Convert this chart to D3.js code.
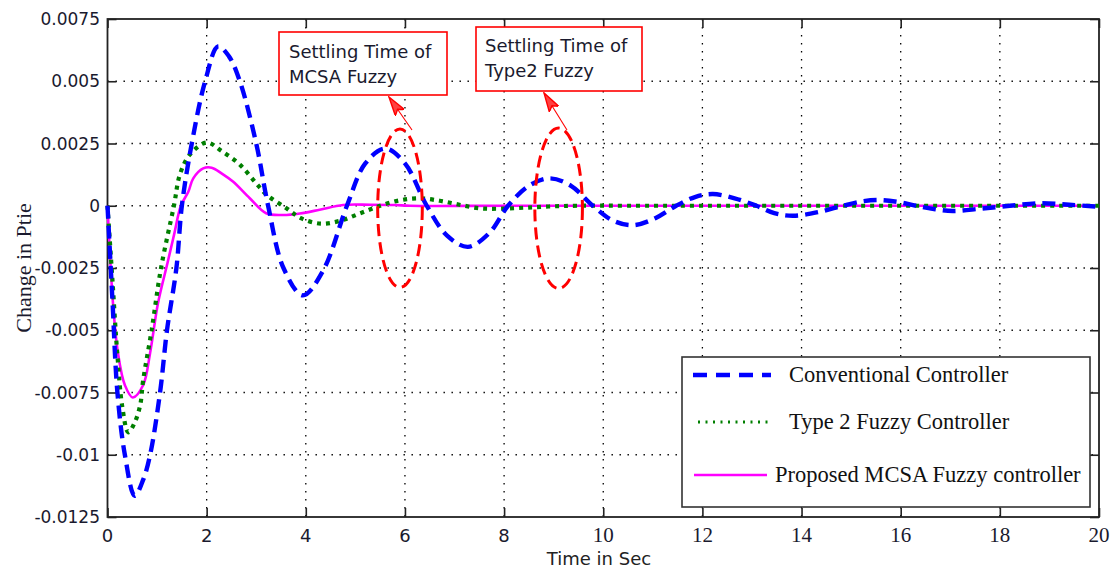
<!DOCTYPE html>
<html>
<head>
<meta charset="utf-8">
<script src="https://cdn.jsdelivr.net/npm/d3@7/dist/d3.min.js"></script>
<style>
  html, body { margin: 0; padding: 0; background: #fff; }
  svg { display: block; }
</style>
</head>
<body>
<svg id="chart" width="1114" height="569"></svg>
<script>
// Tie-line power deviation after a load step, three controllers
const xTicks = [0, 2, 4, 6, 8, 10, 12, 14, 16, 18, 20];
const yTicks = [-0.0125, -0.01, -0.0075, -0.005, -0.0025, 0, 0.0025, 0.005, 0.0075];
const yTickLabels = ["-0.0125", "-0.01", "-0.0075", "-0.005", "-0.0025", "0", "0.0025", "0.005", "0.0075"];

const seriesNames = ["Conventional Controller", "Type 2 Fuzzy Controller", "Proposed MCSA Fuzzy controller"];

const convT = [0, 0.05, 0.1, 0.2, 0.35, 0.55, 0.72, 0.86, 1.06, 1.2, 1.39, 1.5, 1.7, 1.97, 2.23, 2.45, 2.67, 3.0, 3.24, 3.55, 3.94, 4.35, 4.83, 5.2, 5.6, 6.0, 6.44, 6.85, 7.27, 7.7, 8.08, 8.5, 8.92, 9.35, 9.79, 10.2, 10.6, 11.05, 11.47, 11.85, 12.21, 12.65, 13.09, 13.45, 13.83, 14.35, 14.83, 15.2, 15.57, 15.95, 16.31, 16.7, 17.05, 17.6, 18.2, 18.8, 19.4, 20];
const convV = [0, -0.0019, -0.0038, -0.0075, -0.0100, -0.01165, -0.0110, -0.0100, -0.0075, -0.0050, -0.0025, 0, 0.0025, 0.0050, 0.0064, 0.0060, 0.0050, 0.0025, 0, -0.0025, -0.0036, -0.0026, 0, 0.0017, 0.0023, 0.0017, 0, -0.0012, -0.00165, -0.0011, 0, 0.0008, 0.0011, 0.0008, 0, -0.0006, -0.00078, -0.0005, 0, 0.00035, 0.00047, 0.0003, 0, -0.0003, -0.0004, -0.00025, 0, 0.00017, 0.00023, 0.00015, 0, -0.00014, -0.00021, -0.00012, 0, 0.0001, 0.00004, -0.00004];

const type2T = [0, 0.1, 0.2, 0.3, 0.42, 0.55, 0.66, 0.72, 0.89, 1.08, 1.34, 1.46, 1.66, 2.0, 2.3, 2.67, 3.0, 3.21, 3.61, 3.9, 4.3, 4.7, 5.1, 5.5, 5.9, 6.3, 6.7, 7.1, 7.5, 7.9, 8.4, 8.9, 9.5, 10.5, 12, 14, 16, 18, 20];
const type2V = [0, -0.0030, -0.0060, -0.0081, -0.0091, -0.0087, -0.0080, -0.0070, -0.0050, -0.0025, 0, 0.00125, 0.00205, 0.00254, 0.0022, 0.00165, 0.0009, 0.00044, -0.0001, -0.0005, -0.00072, -0.0006, -0.0003, 0, 0.00022, 0.0003, 0.0002, 0.00004, -0.0001, -0.00012, -0.00008, -0.00003, 0, 0, 0, 0, 0, 0, 0];

const mcsaT = [0, 0.11, 0.21, 0.35, 0.51, 0.72, 0.86, 1.02, 1.21, 1.35, 1.48, 1.63, 1.73, 1.93, 2.1, 2.3, 2.53, 2.87, 3.2, 3.54, 3.88, 4.28, 4.75, 5.3, 5.8, 6.1, 8, 10, 12, 14, 16, 18, 20];
const mcsaV = [0, -0.0039, -0.0059, -0.0072, -0.0077, -0.0072, -0.0059, -0.0039, -0.0023, -0.0011, 0, 0.00056, 0.0011, 0.0015, 0.00153, 0.0013, 0.00097, 0.0003, -0.0003, -0.00037, -0.00031, -0.00016, 0.00003, 0.00004, 0.00003, 0, 0, 0, 0, 0, 0, 0, 0];

// Settling-time markers: ellipse centre (s, value) and half-extents
const markerCx = [5.9, 9.1];
const markerCy = [-0.0001, -0.0001];
const markerRx = [0.45, 0.48];
const markerRy = [0.00318, 0.00322];
const noteLines = [["Settling Time of", "MCSA Fuzzy"], ["Settling Time of", "Type2 Fuzzy"]];

const svg = d3.select("#chart");
const W = 1114, H = 569;
const m = { left: 107.5, right: 1099, top: 19, bottom: 517 };

const x = d3.scaleLinear().domain([0, 20]).range([m.left, m.right]);
const y = d3.scaleLinear().domain([-0.0125, 0.0075]).range([m.bottom, m.top]);

svg.append("rect").attr("width", W).attr("height", H).attr("fill", "#fff");

// dotted grid
const grid = svg.append("g");
xTicks.slice(1, -1).forEach(t => {
  grid.append("line").attr("x1", x(t)).attr("x2", x(t)).attr("y1", m.top).attr("y2", m.bottom)
    .attr("stroke", "#000").attr("stroke-width", 1.3).attr("stroke-dasharray", "1.4,6.6");
});
yTicks.slice(1, -1).forEach(v => {
  grid.append("line").attr("x1", m.left).attr("x2", m.right).attr("y1", y(v)).attr("y2", y(v))
    .attr("stroke", "#000").attr("stroke-width", 1.3).attr("stroke-dasharray", "1.4,6.6");
});

// axes with inward ticks on all four sides
const axB = d3.axisBottom(x).tickValues(xTicks).tickSize(-9).tickFormat("");
const axT = d3.axisTop(x).tickValues(xTicks).tickSize(-9).tickFormat("");
const axL = d3.axisLeft(y).tickValues(yTicks).tickSize(-9).tickFormat("");
const axR = d3.axisRight(y).tickValues(yTicks).tickSize(-9).tickFormat("");
[[axB, `translate(0,${m.bottom})`], [axT, `translate(0,${m.top})`], [axL, `translate(${m.left},0)`], [axR, `translate(${m.right},0)`]]
  .forEach(([ax, tr]) => {
    const g = svg.append("g").attr("transform", tr).call(ax);
    g.select(".domain").remove();
    g.selectAll(".tick line").attr("stroke", "#222").attr("stroke-width", 1.6);
  });

svg.append("rect").attr("x", m.left).attr("y", m.top)
  .attr("width", m.right - m.left).attr("height", m.bottom - m.top)
  .attr("fill", "none").attr("stroke", "#222").attr("stroke-width", 1.8);

// tick labels
yTicks.forEach((v, i) => {
  svg.append("text").attr("x", 100).attr("y", y(v)).attr("dy", "0.36em")
    .attr("text-anchor", "end").attr("font-family", "'DejaVu Sans', sans-serif")
    .attr("font-size", 17).attr("fill", "#1a1a2e").text(yTickLabels[i]);
});
xTicks.forEach(t => {
  const serif = t >= 10;
  svg.append("text").attr("x", x(t)).attr("y", 542)
    .attr("text-anchor", "middle")
    .attr("font-family", serif ? "'Liberation Serif', serif" : "'DejaVu Sans', sans-serif")
    .attr("font-size", serif ? 21 : 18).attr("fill", "#1a1a2e").text(t);
});

svg.append("text").attr("x", 599).attr("y", 565).attr("text-anchor", "middle")
  .attr("font-family", "'DejaVu Sans', sans-serif").attr("font-size", 18).attr("fill", "#222")
  .text("Time in Sec");
svg.append("text").attr("transform", "translate(31,268) rotate(-90)").attr("text-anchor", "middle")
  .attr("font-family", "'Liberation Serif', serif").attr("font-size", 22).attr("fill", "#1a1a2e")
  .text("Change in Ptie");

// curves
const line = d3.line().x(d => x(d[0])).y(d => y(d[1])).curve(d3.curveCatmullRom.alpha(0.5));
const zip = (a, b) => a.map((t, i) => [t, b[i]]);
const plot = svg.append("g");
plot.append("path").datum(zip(mcsaT, mcsaV)).attr("d", line)
  .attr("fill", "none").attr("stroke", "#ff00ff").attr("stroke-width", 2.6);
plot.append("path").datum(zip(type2T, type2V)).attr("d", line)
  .attr("fill", "none").attr("stroke", "#007f00").attr("stroke-width", 4.2).attr("stroke-dasharray", "4,5");
plot.append("path").datum(zip(convT, convV)).attr("d", line)
  .attr("fill", "none").attr("stroke", "#0000ff").attr("stroke-width", 4.4).attr("stroke-dasharray", "13,7");

// settling-time ellipses and callouts
svg.append("defs").append("marker").attr("id", "arrowhead")
  .attr("viewBox", "0 0 20 12").attr("refX", 19).attr("refY", 6)
  .attr("markerWidth", 20).attr("markerHeight", 12).attr("markerUnits", "userSpaceOnUse")
  .attr("orient", "auto")
  .append("path").attr("d", "M0,0.5 L19,6 L0,11.5 L4,6 Z").attr("fill", "#ff4040").attr("stroke", "#ff0000").attr("stroke-width", 1.4);

const noteBoxes = [[279, 32, 168, 63], [476, 27, 166, 64]];
const noteText = [[289, 58, 83], [485, 52, 77]];
const arrowEnds = [[412, 130, 389, 97], [567, 130, 544, 93]];

markerCx.forEach((cx, i) => {
  svg.append("ellipse").attr("cx", x(cx)).attr("cy", y(markerCy[i]))
    .attr("rx", x(markerRx[i]) - x(0)).attr("ry", y(0) - y(markerRy[i]))
    .attr("fill", "none").attr("stroke", "#ff0000").attr("stroke-width", 3).attr("stroke-dasharray", "12,6");
  const [bx, by, bw, bh] = noteBoxes[i];
  svg.append("rect").attr("x", bx).attr("y", by).attr("width", bw).attr("height", bh)
    .attr("fill", "#fff").attr("stroke", "#ff0000").attr("stroke-width", 1.6);
  const [tx, b1, b2] = noteText[i];
  [b1, b2].forEach((by2, j) => {
    svg.append("text").attr("x", tx).attr("y", by2)
      .attr("font-family", "'DejaVu Sans', sans-serif").attr("font-size", 18).attr("fill", "#1a1a2e")
      .text(noteLines[i][j]);
  });
  const [x1, y1, x2, y2] = arrowEnds[i];
  svg.append("line").attr("x1", x1).attr("y1", y1).attr("x2", x2).attr("y2", y2)
    .attr("stroke", "#ff0000").attr("stroke-width", 1.1).attr("marker-end", "url(#arrowhead)");
});

// legend
const lg = svg.append("g");
lg.append("rect").attr("x", 682).attr("y", 357).attr("width", 408).attr("height", 150)
  .attr("fill", "#fff").attr("stroke", "#333").attr("stroke-width", 1.6);
const legendStyle = [
  { color: "#0000ff", width: 4.4, dash: "14,9", x1: 693, x2: 771, tx: 789 },
  { color: "#007f00", width: 3.2, dash: "2,5.5", x1: 698, x2: 771, tx: 789 },
  { color: "#ff00ff", width: 2.4, dash: null, x1: 694, x2: 767, tx: 775 }
];
const legendRows = [375, 422, 475];
seriesNames.forEach((name, i) => {
  const s = legendStyle[i];
  const ln = lg.append("line").attr("x1", s.x1).attr("x2", s.x2).attr("y1", legendRows[i]).attr("y2", legendRows[i])
    .attr("stroke", s.color).attr("stroke-width", s.width);
  if (s.dash) ln.attr("stroke-dasharray", s.dash);
  lg.append("text").attr("x", s.tx).attr("y", legendRows[i]).attr("dy", "0.33em")
    .attr("font-family", "'Liberation Serif', serif").attr("font-size", 22.5).attr("fill", "#111")
    .text(name);
});
</script>
</body>
</html>
